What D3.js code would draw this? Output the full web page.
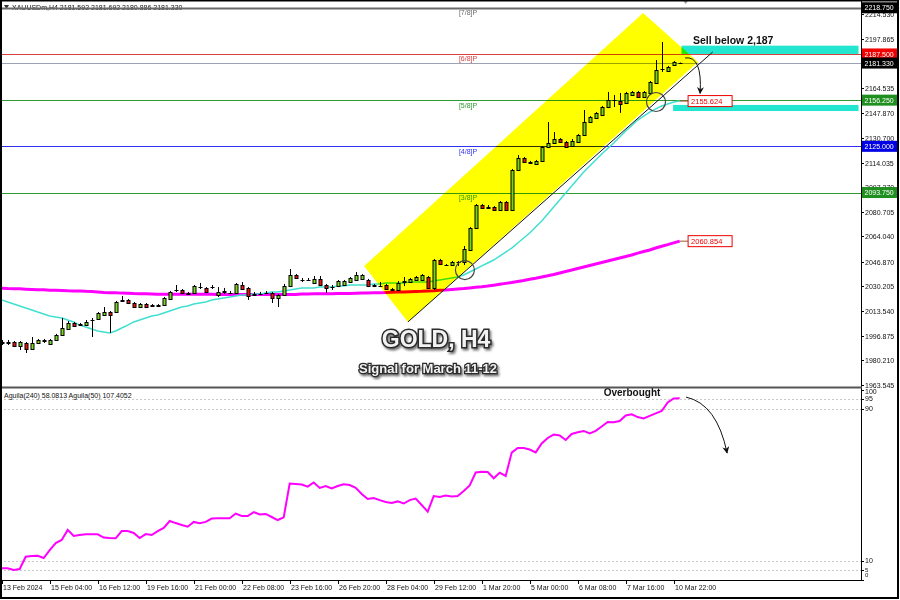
<!DOCTYPE html>
<html><head><meta charset="utf-8">
<script src="https://cdn.jsdelivr.net/npm/d3@7"></script>
<style>
html,body{margin:0;padding:0;background:#fff;}
svg{display:block;font-family:"Liberation Sans",Arial,sans-serif;}
</style></head><body>
<svg id="chart" width="900" height="600"></svg>
<script>
// ---------------- DATA ----------------
const openP = [1992.6,1992.0,1992.6,1989.9,1992.0,1987.9,1992.0,1993.3,1991.3,1994.0,
1997.4,2001.4,2005.5,2004.1,2004.1,2007.5,2008.2,2010.9,2012.9,2012.9,
2020.4,2021.1,2019.0,2016.3,2018.3,2017.7,2017.7,2017.7,2021.7,2027.8,
2027.8,2025.8,2025.8,2029.8,2029.2,2029.8,2024.4,2026.5,2025.8,2025.8,
2031.2,2029.2,2025.1,2025.1,2025.8,2025.8,2022.4,2024.4,2030.5,2038.0,
2034.6,2034.6,2032.6,2035.3,2031.2,2029.8,2030.5,2031.2,2033.2,2034.6,
2035.3,2034.6,2031.2,2030.5,2031.2,2028.5,2027.8,2033.2,2033.2,2034.6,
2034.6,2036.6,2029.2,2048.1,2044.7,2044.7,2046.8,2046.8,2054.9,2069.8,
2085.3,2084.0,2084.0,2081.9,2087.3,2081.9,2109.0,2117.1,2114.4,2113.1,
2115.1,2124.6,2127.3,2130.0,2127.9,2125.2,2127.9,2132.7,2141.5,2144.2,
2146.2,2151.6,2156.4,2155.7,2154.3,2159.7,2161.8,2158.4,2161.1,2167.9,
2177.3,2176.0,2180.0,2181.592];
const highP = [1994.0,1994.0,1993.3,1993.3,1992.6,1996.0,1994.7,1994.7,1994.7,1998.1,
2008.9,2006.8,2006.2,2005.5,2007.5,2008.9,2012.9,2016.3,2013.6,2020.4,
2023.8,2021.7,2019.7,2019.0,2019.0,2018.3,2018.3,2023.1,2027.1,2031.2,
2028.5,2026.5,2031.2,2032.6,2029.8,2031.2,2029.8,2029.2,2027.1,2032.6,
2033.2,2029.8,2026.5,2026.5,2027.1,2026.5,2025.1,2031.9,2042.0,2038.6,
2035.9,2035.9,2037.3,2037.3,2031.9,2031.2,2034.6,2034.6,2036.6,2040.0,
2038.6,2035.3,2031.9,2033.2,2031.9,2029.2,2033.9,2036.6,2035.9,2037.3,
2038.6,2037.3,2048.8,2048.8,2045.4,2047.4,2047.4,2057.6,2070.4,2086.0,
2086.0,2085.3,2084.6,2088.0,2088.0,2109.7,2119.1,2117.8,2115.1,2115.8,
2125.2,2141.5,2134.7,2130.6,2128.6,2130.0,2133.3,2149.6,2145.5,2148.2,
2152.3,2161.8,2159.7,2161.1,2161.8,2162.4,2162.4,2162.4,2169.2,2183.4,
2195.6,2179.4,2182.7,2181.692];
const lowP = [1990.6,1990.6,1989.3,1987.2,1985.2,1987.2,1991.3,1992.0,1990.6,1993.3,
1996.7,2000.8,2002.8,2003.5,2003.5,1996.0,2007.5,2010.2,1998.7,2012.3,
2019.7,2018.3,2015.6,2015.6,2015.6,2016.3,2016.3,2017.0,2021.1,2026.5,
2025.1,2024.4,2025.1,2028.5,2025.8,2028.5,2023.1,2025.1,2025.1,2025.1,
2027.8,2021.1,2023.8,2024.4,2025.1,2019.0,2016.3,2023.8,2029.8,2035.3,
2033.2,2033.9,2031.9,2030.5,2025.8,2027.8,2029.8,2030.5,2032.6,2033.9,
2034.6,2029.8,2029.8,2029.8,2027.8,2027.1,2027.1,2030.5,2032.6,2033.9,
2033.9,2028.5,2027.8,2044.7,2044.1,2044.1,2044.1,2044.7,2054.2,2069.1,
2082.6,2082.6,2081.3,2081.3,2081.3,2081.3,2108.3,2113.7,2113.1,2112.4,
2114.4,2123.9,2126.6,2127.3,2123.9,2124.6,2127.3,2132.0,2140.8,2143.5,
2145.5,2150.9,2151.6,2147.6,2153.6,2159.1,2157.7,2157.7,2160.4,2167.2,
2175.3,2175.3,2179.4,2180.886];
const closeP = [1992.0,1992.6,1989.9,1992.6,1987.9,1992.0,1994.0,1994.0,1994.0,1997.4,
2002.1,2005.5,2003.5,2004.8,2006.2,2007.6,2012.3,2012.9,2010.9,2019.7,
2021.1,2019.0,2016.3,2018.3,2016.3,2017.0,2017.0,2022.4,2026.5,2027.9,
2025.8,2025.1,2030.5,2029.9,2026.5,2029.7,2026.5,2027.1,2025.9,2031.9,
2028.5,2023.8,2024.4,2025.2,2025.9,2022.4,2024.4,2030.5,2038.0,2035.9,
2034.7,2034.5,2035.3,2031.2,2029.2,2029.9,2033.9,2033.9,2035.9,2038.0,
2038.0,2030.5,2030.5,2030.6,2028.5,2027.8,2032.6,2033.9,2035.3,2036.6,
2038.0,2029.2,2048.1,2045.4,2044.8,2046.8,2046.9,2055.6,2069.8,2085.3,
2083.3,2083.6,2081.9,2087.3,2081.9,2109.0,2117.1,2114.4,2113.7,2115.1,
2124.6,2127.3,2130.0,2127.9,2124.6,2128.6,2132.7,2141.5,2144.9,2147.6,
2151.6,2156.4,2156.3,2153.6,2161.1,2161.8,2158.4,2161.8,2168.5,2176.6,
2177.4,2178.7,2182.1,2181.330];
const maFast = [2021.1,2019.7,2018.3,2017.0,2015.6,2014.3,2012.9,2011.6,2010.2,2009.5,
2008.9,2007.5,2006.2,2004.1,2002.8,2001.4,2000.1,1999.4,1998.7,2000.1,
2002.1,2004.1,2006.2,2007.5,2008.9,2010.2,2010.9,2012.3,2013.6,2014.9,
2016.3,2017.0,2018.3,2019.0,2019.7,2021.1,2021.7,2022.4,2023.1,2023.8,
2024.4,2024.4,2025.1,2025.1,2025.8,2026.5,2026.5,2027.1,2027.8,2028.5,
2029.2,2029.2,2029.2,2029.8,2029.8,2029.8,2030.5,2030.5,2031.2,2031.2,
2031.2,2031.2,2031.9,2031.9,2032.6,2032.6,2032.6,2032.6,2033.2,2033.2,
2033.2,2033.2,2033.9,2034.6,2035.3,2035.9,2036.6,2038.0,2040.0,2042.0,
2044.1,2046.1,2048.1,2050.8,2053.5,2056.2,2059.6,2063.0,2066.4,2070.4,
2074.5,2079.2,2084.0,2088.7,2093.4,2098.2,2102.9,2107.6,2111.7,2115.8,
2119.8,2123.5,2127.3,2131.3,2135.4,2139.1,2142.8,2145.5,2148.2,2150.3,
2152.3,2153.6,2155.0,2155.624];
const maSlow = [2029.0,2028.8,2028.7,2028.6,2028.4,2028.2,2028.0,2027.9,2027.7,2027.6,
2027.5,2027.3,2027.2,2027.1,2026.9,2026.8,2026.5,2026.1,2026.0,2025.9,
2025.7,2025.6,2025.4,2025.3,2025.2,2025.1,2025.0,2025.0,2025.0,2025.0,
2025.0,2025.0,2025.0,2025.0,2025.0,2025.0,2024.8,2024.8,2024.8,2024.8,
2024.8,2024.8,2024.8,2024.8,2024.8,2024.8,2024.8,2024.8,2024.8,2024.8,
2025.1,2025.1,2025.2,2025.2,2025.3,2025.3,2025.4,2025.4,2025.5,2025.6,
2025.7,2025.8,2025.9,2026.0,2026.1,2026.3,2026.4,2026.5,2026.7,2026.8,
2026.9,2027.1,2027.3,2027.6,2027.8,2028.2,2028.5,2028.8,2029.2,2029.6,
2030.0,2030.5,2031.1,2031.7,2032.3,2032.9,2033.6,2034.3,2035.1,2035.8,
2036.6,2037.4,2038.3,2039.3,2040.3,2041.3,2042.4,2043.4,2044.4,2045.4,
2046.4,2047.4,2048.4,2049.5,2050.5,2051.5,2052.8,2053.9,2054.9,2056.2,
2057.4,2058.5,2059.7,2060.854];
const oscValues = [5.9,5.9,5.0,5.5,12.0,12.4,12.5,11.3,15.5,19.2,
20.8,26.1,22.9,23.4,23.8,23.8,23.8,22.1,21.8,21.7,
25.5,25.5,24.5,21.8,23.9,23.4,25.5,27.1,30.8,29.7,
28.7,27.8,30.3,29.6,30.3,32.1,32.2,32.2,32.2,34.7,
33.4,33.4,35.5,34.2,34.5,32.9,31.3,32.7,50.5,50.3,
50.0,48.9,51.1,48.2,49.2,47.9,49.2,50.1,49.7,48.2,
45.0,42.4,42.9,41.8,40.8,40.3,41.1,40.0,41.8,42.6,
39.2,35.7,43.9,43.4,44.2,43.7,43.9,46.6,49.5,56.3,
56.7,56.6,53.3,56.2,54.5,66.8,69.2,69.2,68.4,66.9,
71.6,74.5,76.3,75.8,73.4,76.6,77.5,78.2,76.9,78.2,
80.5,82.9,82.8,83.4,86.3,86.9,85.5,84.8,86.1,87.4,
88.7,93.2,95.3,95.4];

const dateLabels = ["13 Feb 2024","15 Feb 04:00","16 Feb 12:00","19 Feb 16:00","21 Feb 00:00","22 Feb 08:00","23 Feb 16:00","26 Feb 20:00","28 Feb 04:00","29 Feb 12:00","1 Mar 20:00","5 Mar 00:00","6 Mar 08:00","7 Mar 16:00","10 Mar 22:00"];
const dateLabelIndex = [0,8,16,24,32,40,48,56,64,72,80,88,96,104,112];
const priceTicks = [2214.530,2197.865,2181.200,2164.535,2147.870,2130.700,2114.035,2097.370,2080.705,2064.040,2046.870,2030.205,2013.540,1996.875,1980.210,1963.545];
const murreyNames = ["[7/8]P","[6/8]P","[5/8]P","[4/8]P","[3/8]P"];
const murreyValues = [2218.75,2187.5,2156.25,2125.0,2093.75];
const tagValues = [2218.750,2187.500,2181.330,2156.250,2125.000,2093.750];
const oscLevels = [95,90,10,5];
const oscTicks = [100,95,90,10,5,0];
const channelIndex = [60.4,106.9,116.05,67.7];
const channelPrice = [2044.0,2215.2,2182.1,2006.2];
const trendIndex = [67.7,118.5];
const trendPrice = [2006.2,2188.8];
const zoneStart = [113.3,111.9], zoneEnd = [142.8,142.8];
const zoneLow = [2187.5,2148.9], zoneHigh = [2193.1,2153.0];
const title = "XAUUSDm,H4  2181.592 2181.692 2180.886 2181.330";
const oscTitle = "Aguila(240) 58.0813  Aguila(50) 107.4052";

// ---------------- STYLES ----------------
const murreyColors = ["#6a6a6a","#d84040","#2e9a2e","#3030f0","#2e9a2e"];
const tagColors = ["#000","#f00000","#000","#1f8f1f","#0000e6","#1f8f1f"];

// ---------------- SCALES ----------------
const svg = d3.select("#chart");
const x = d3.scaleLinear().domain([0,143]).range([1.7,859.7]);
const y = d3.scaleLinear().domain([1963.545,2214.53]).range([385,14]);
const yo = d3.scaleLinear().domain([0,100]).range([579.5,389.5]);

const defs = svg.append("defs");
defs.append("clipPath").attr("id","cMain").append("rect").attr("x",2).attr("y",0).attr("width",859).attr("height",387);
defs.append("clipPath").attr("id","cOsc").append("rect").attr("x",2).attr("y",389).attr("width",859).attr("height",191);
const mk = defs.append("marker").attr("id","arr").attr("viewBox","0 0 10 10").attr("refX",9).attr("refY",5)
  .attr("markerWidth",7).attr("markerHeight",7).attr("orient","auto-start-reverse").attr("markerUnits","userSpaceOnUse");
mk.append("path").attr("d","M0,0 L10,5 L0,10 L3,5 Z").attr("fill","#111");
const sh = defs.append("filter").attr("id","shadow").attr("x","-10%").attr("y","-20%").attr("width","130%").attr("height","160%");
sh.append("feDropShadow").attr("dx",1.5).attr("dy",2).attr("stdDeviation",1).attr("flood-color","#000").attr("flood-opacity",0.55);

svg.append("rect").attr("width",900).attr("height",600).attr("fill","#fff");

const main = svg.append("g").attr("clip-path","url(#cMain)");

// title
main.append("path").attr("d","M4,5 L9,5 L6.5,9 Z").attr("fill","#333");
main.append("text").attr("x",12).attr("y",10).attr("font-size",7).attr("fill","#111").text(title);

// Murrey lines + labels
murreyValues.forEach((v,k)=>{
  main.append("line").attr("x1",0).attr("x2",861).attr("y1",Math.round(y(v))+0.5).attr("y2",Math.round(y(v))+0.5)
    .attr("stroke",murreyColors[k]).attr("stroke-width",k===0?1.8:1);
  main.append("text").attr("x",x(76.2)).attr("y",y(v)+7.5).attr("font-size",7).attr("fill",murreyColors[k]).text(murreyNames[k]);
});
// current price line
main.append("line").attr("x1",0).attr("x2",861).attr("y1",Math.round(y(2181.33))+0.5).attr("y2",Math.round(y(2181.33))+0.5)
  .attr("stroke","#9aa2b4").attr("stroke-width",1);

// zones
zoneStart.forEach((s,k)=>{
  main.append("rect").attr("x",x(s)).attr("width",x(zoneEnd[k])-x(s))
    .attr("y",y(zoneHigh[k])).attr("height",y(zoneLow[k])-y(zoneHigh[k])).attr("fill","#22e6cf");
});

// moving averages
const ln = d3.line().x((d,i)=>x(i)).y(d=>y(d));
main.append("path").datum(maSlow).attr("d",ln).attr("fill","none").attr("stroke","#ff00ff").attr("stroke-width",3);
main.append("path").datum(maFast).attr("d",ln).attr("fill","none").attr("stroke","#40e0d0").attr("stroke-width",1.5);

// candles
const cg = main.append("g");
openP.forEach((o,i)=>{
  const c = closeP[i], cx = Math.round(x(i));
  cg.append("line").attr("x1",cx+0.5).attr("x2",cx+0.5).attr("y1",y(highP[i])).attr("y2",y(lowP[i])).attr("stroke","#000");
  if (Math.abs(c-o) < 0.35) {
    cg.append("line").attr("x1",cx-1.5).attr("x2",cx+2.5).attr("y1",Math.round(y(c))+0.5).attr("y2",Math.round(y(c))+0.5).attr("stroke","#000");
  } else {
    const top = Math.round(y(Math.max(o,c))), bot = Math.round(y(Math.min(o,c)));
    cg.append("rect").attr("x",cx-1).attr("width",3).attr("y",top+0.5).attr("height",Math.max(1,bot-top))
      .attr("fill", c>o ? "#7ad81e" : "#ee1010").attr("stroke","#000").attr("stroke-width",1);
  }
});

// yellow channel (multiply blend like MT4)
const poly = channelIndex.map((ix,k)=>[x(ix),y(channelPrice[k])]);
main.append("polygon").attr("points",poly.map(p=>p.join(",")).join(" "))
  .attr("fill","#ffff00").style("mix-blend-mode","multiply");
main.append("line").attr("x1",x(trendIndex[0])).attr("y1",y(trendPrice[0])).attr("x2",x(trendIndex[1])).attr("y2",y(trendPrice[1]))
  .attr("stroke","#111").attr("stroke-width",1);

// circles
[[77.2,2041.3],[109.05,2155.0]].forEach(d=>{
  main.append("circle").attr("cx",x(d[0])).attr("cy",y(d[1])).attr("r",9.5).attr("fill","none").attr("stroke","#444").attr("stroke-width",1.2);
});

// MA value labels
[[maFast,2155.624],[maSlow,2060.854]].forEach(d=>{
  const yy = y(d[1]);
  main.append("line").attr("x1",x(113)).attr("x2",x(114.4)).attr("y1",yy).attr("y2",yy).attr("stroke","#a0522d");
  main.append("rect").attr("x",x(114.4)).attr("y",yy-5.5).attr("width",44).attr("height",11).attr("fill","#fff").attr("stroke","#e00").attr("stroke-width",1);
  main.append("text").attr("x",x(114.4)+3).attr("y",yy+3).attr("font-size",7.5).attr("fill","#e00").text(d3.format(".3f")(d[1]));
});

// sell arrow
const ap = d3.path();
ap.moveTo(x(113.9),y(2184.8)); ap.quadraticCurveTo(x(116.8),y(2186.4),x(116.4),y(2160.8));
main.append("path").attr("d",ap.toString()).attr("fill","none").attr("stroke","#111").attr("stroke-width",1).attr("marker-end","url(#arr)");
main.append("text").attr("x",x(115.2)).attr("y",y(2194.2)).attr("font-size",10.5).attr("font-weight","bold").attr("fill","#111").text("Sell below 2,187");

// big titles
main.append("text").attr("x",x(72.4)).attr("y",y(1989.3)).attr("text-anchor","middle").attr("font-size",23).attr("font-weight","bold")
  .attr("fill","#f2f2f2").attr("stroke","#2a2a2a").attr("stroke-width",3).attr("paint-order","stroke").attr("filter","url(#shadow)").text("GOLD, H4");
main.append("text").attr("x",x(71.05)).attr("y",y(1971.7)).attr("text-anchor","middle").attr("font-size",13).attr("font-weight","bold")
  .attr("fill","#f2f2f2").attr("stroke","#2a2a2a").attr("stroke-width",2.5).attr("paint-order","stroke").attr("filter","url(#shadow)").text("Signal for March 11-12");

// shift marker
svg.append("path").attr("d",`M${x(114)-3},0 L${x(114)+3},0 L${x(114)},4 Z`).attr("fill","#999");

// ---------------- OSCILLATOR ----------------
const osc = svg.append("g").attr("clip-path","url(#cOsc)");
oscLevels.forEach(v=>{
  osc.append("line").attr("x1",0).attr("x2",861).attr("y1",Math.round(yo(v))+0.5).attr("y2",Math.round(yo(v))+0.5)
    .attr("stroke","#c8c8c8").attr("stroke-dasharray","2,2");
});
osc.append("path").datum(oscValues).attr("d",d3.line().x((d,i)=>x(i)).y(d=>yo(d))).attr("fill","none").attr("stroke","#ff00ff").attr("stroke-width",2);
osc.append("text").attr("x",4).attr("y",398).attr("font-size",7).attr("fill","#111").text(oscTitle);
svg.append("text").attr("x",x(105.05)).attr("y",yo(96.6)).attr("text-anchor","middle").attr("font-size",10).attr("font-weight","bold").attr("fill","#111").text("Overbought");
const ap2 = d3.path();
ap2.moveTo(x(114.05),yo(96.0)); ap2.quadraticCurveTo(x(119.2),yo(92.5),x(120.9),yo(66.6));
svg.append("path").attr("d",ap2.toString()).attr("fill","none").attr("stroke","#111").attr("stroke-width",1).attr("marker-end","url(#arr)");

// ---------------- AXES / FRAME ----------------
const ax = svg.append("g").attr("font-size",7).attr("fill","#111");
priceTicks.forEach(v=>{
  const yy = Math.round(y(v))+0.5;
  ax.append("line").attr("x1",861).attr("x2",864).attr("y1",yy).attr("y2",yy).attr("stroke","#000");
  ax.append("text").attr("x",865).attr("y",yy+2.5).text(d3.format(".3f")(v));
});
tagValues.forEach((v,k)=>{
  const yy = y(v);
  ax.append("rect").attr("x",862).attr("y",yy-5.5).attr("width",35).attr("height",11).attr("fill",tagColors[k]);
  ax.append("text").attr("x",864.5).attr("y",yy+2.6).attr("fill","#fff").text(d3.format(".3f")(v));
});
oscTicks.forEach(v=>{
  const cy = Math.max(392, Math.min(575, yo(v)));
  const small = (v===0||v===5);
  ax.append("line").attr("x1",861).attr("x2",864).attr("y1",Math.round(yo(v))+0.5).attr("y2",Math.round(yo(v))+0.5).attr("stroke","#000");
  ax.append("text").attr("x",865).attr("y",(v===5?cy-0.5:cy)+2.3).attr("font-size",small?6:7).text(v);
});
dateLabelIndex.forEach((ix,k)=>{
  const xx = Math.round(x(ix))+0.5;
  ax.append("line").attr("x1",xx).attr("x2",xx).attr("y1",580).attr("y2",584).attr("stroke","#000");
  ax.append("text").attr("x",xx+0.5).attr("y",590).text(dateLabels[k]);
});

svg.append("line").attr("x1",861.5).attr("x2",861.5).attr("y1",0).attr("y2",581).attr("stroke","#000");
svg.append("line").attr("x1",0).attr("x2",862).attr("y1",387.5).attr("y2",387.5).attr("stroke","#555").attr("stroke-width",2);
svg.append("line").attr("x1",0).attr("x2",862).attr("y1",580.5).attr("y2",580.5).attr("stroke","#000");
svg.append("rect").attr("x",1).attr("y",0.5).attr("width",897).attr("height",597.5).attr("fill","none").attr("stroke","#000").attr("stroke-width",2);
</script>
</body></html>
